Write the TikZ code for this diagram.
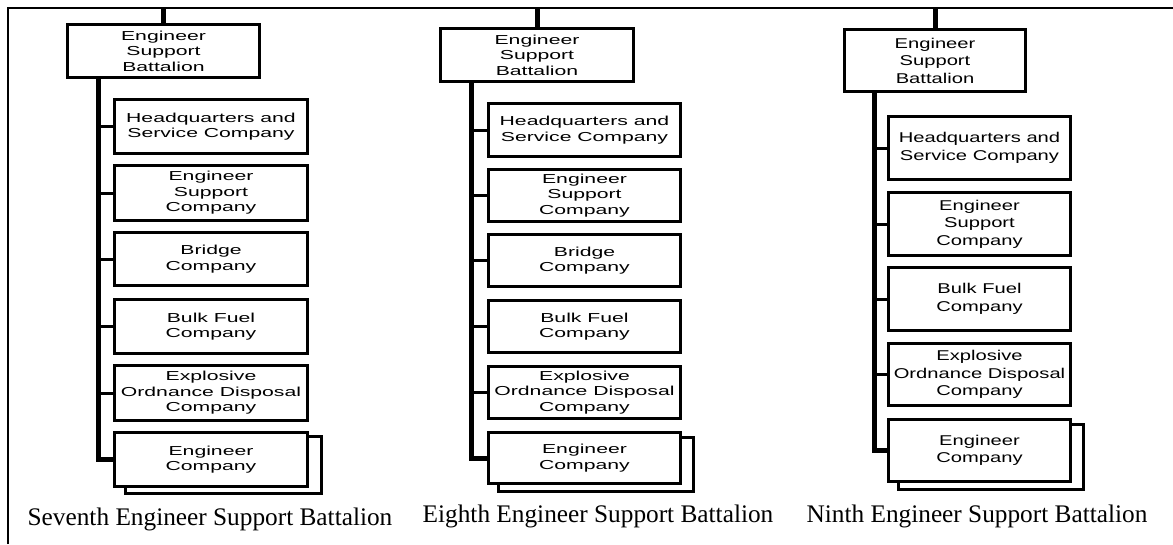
\documentclass[tikz,border=0pt]{standalone}
\usepackage{fontspec}
\setmainfont{Liberation Serif}
\newfontfamily\boxfontA[FakeStretch=1.63]{Liberation Sans}
\newfontfamily\boxfontB[FakeStretch=1.42]{Liberation Sans}
\usetikzlibrary{backgrounds}
\tikzset{
  orgbox/.style={draw, line width=3pt, fill=white, inner sep=0pt, align=center},
  colA/.style={font=\boxfontA\fontsize{13}{15.5}\selectfont},
  colB/.style={font=\boxfontB\fontsize{14.2}{17.5}\selectfont},
  trunk/.style={line width=5pt},
  branch/.style={line width=3pt},
  stub/.style={line width=5pt},
  frameline/.style={line width=2.5pt},
  shadowbox/.style={draw, line width=3pt, fill=white},
  caption/.style={font=\fontsize{25.3}{30}\selectfont, anchor=base, inner sep=0pt}
}
\newcommand\obox[7][]{%
  \node[orgbox,#1,minimum width={#4-#2-3}, minimum height={#5-#3-3}] (#6) at ({(#2+#4)/2},{(#3+#5)/2}) {#7};}
\begin{document}
\begin{tikzpicture}[x=1pt,y=-1pt]
\useasboundingbox (0,0) rectangle (1173,544);
\draw[frameline] (8,544) -- (8,8) -- (1173,8);
\coordinate (top) at (0,8);
% ---------- column 1
\obox[colA]{66}{23}{261}{79}{bat1}{Engineer\\Support\\Battalion}
\obox[colA]{113}{98}{309}{155}{hq1}{Headquarters and\\Service Company}
\obox[colA]{113}{164}{309}{222}{esc1}{Engineer\\Support\\Company}
\obox[colA]{113}{231}{309}{287}{br1}{Bridge\\Company}
\obox[colA]{113}{298}{309}{355}{bf1}{Bulk Fuel\\Company}
\obox[colA]{113}{364}{309}{422}{eod1}{Explosive\\Ordnance Disposal\\Company}
\obox[colA]{113}{431}{309}{488}{ec1}{Engineer\\Company}
\begin{scope}[on background layer]
\draw[shadowbox] ([shift={(12,5)}]ec1.south west) rectangle ([shift={(12,5)}]ec1.north east);
\end{scope}
\coordinate (x1) at (98,0);
\draw[stub] (bat1.north) -- (bat1.north |- top);
\draw[trunk] (x1 |- bat1.south) |- (ec1.west);
\foreach \n in {hq1,esc1,br1,bf1,eod1}{\draw[branch] (x1 |- \n.west) -- (\n.west);}
\node[caption] (cap1) at (210,525) {Seventh Engineer Support Battalion};
% ---------- column 2
\obox[colA]{439}{27}{635}{83}{bat2}{Engineer\\Support\\Battalion}
\obox[colA]{487}{102}{682}{158}{hq2}{Headquarters and\\Service Company}
\obox[colA]{487}{168}{682}{223}{esc2}{Engineer\\Support\\Company}
\obox[colA]{487}{233}{682}{288}{br2}{Bridge\\Company}
\obox[colA]{487}{299}{682}{354}{bf2}{Bulk Fuel\\Company}
\obox[colA]{487}{365}{682}{420}{eod2}{Explosive\\Ordnance Disposal\\Company}
\obox[colA]{487}{431}{682}{485}{ec2}{Engineer\\Company}
\begin{scope}[on background layer]
\draw[shadowbox] ([shift={(11,6)}]ec2.south west) rectangle ([shift={(11,6)}]ec2.north east);
\end{scope}
\coordinate (x2) at (471,0);
\draw[stub] (bat2.north) -- (bat2.north |- top);
\draw[trunk] (x2 |- bat2.south) |- (ec2.west);
\foreach \n in {hq2,esc2,br2,bf2,eod2}{\draw[branch] (x2 |- \n.west) -- (\n.west);}
\node[caption] (cap2) at (598,522) {Eighth Engineer Support Battalion};
% ---------- column 3
\obox[colB]{843}{28}{1027}{93}{bat3}{Engineer\\Support\\Battalion}
\obox[colB]{887}{115}{1072}{181}{hq3}{Headquarters and\\Service Company}
\obox[colB]{887}{191}{1072}{257}{esc3}{Engineer\\Support\\Company}
\obox[colB]{887}{266}{1072}{332}{bf3}{Bulk Fuel\\Company}
\obox[colB]{887}{342}{1072}{407}{eod3}{Explosive\\Ordnance Disposal\\Company}
\obox[colB]{887}{418}{1072}{483}{ec3}{Engineer\\Company}
\begin{scope}[on background layer]
\draw[shadowbox] ([shift={(11,6)}]ec3.south west) rectangle ([shift={(11,6)}]ec3.north east);
\end{scope}
\coordinate (x3) at (874,0);
\draw[stub] (bat3.north) -- (bat3.north |- top);
\draw[trunk] (x3 |- bat3.south) |- (ec3.west);
\foreach \n in {hq3,esc3,bf3,eod3}{\draw[branch] (x3 |- \n.west) -- (\n.west);}
\node[caption] (cap3) at (977,522) {Ninth Engineer Support Battalion};
\end{tikzpicture}
\end{document}
